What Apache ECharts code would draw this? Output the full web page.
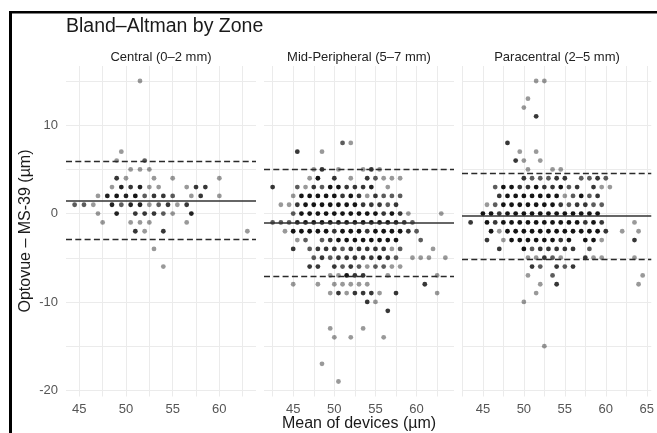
<!DOCTYPE html>
<html><head><meta charset="utf-8">
<script src="https://cdn.jsdelivr.net/npm/echarts@6/dist/echarts.min.js"></script>
<style>html,body{margin:0;padding:0;background:#fff}#c{width:657px;height:433px}</style>
</head><body><div id="c"></div>
<script>
// ---- data: [mean of devices, difference, number of overlapping points] ----
const zoneNames = ['Central (0–2 mm)', 'Mid-Peripheral (5–7 mm)', 'Paracentral (2–5 mm)'];
const centralPts = [
 [51.5,15,1],
 [49.5,7,1],
 [49,6,1],[52,6,2],
 [50.5,5,1],[51.5,5,1],[52.5,5,1],
 [49,4,3],[50,4,1],[53,4,1],[55,4,1],[60,4,1],
 [48.5,3,1],[49.5,3,4],[50.5,3,3],[51.5,3,4],[52.5,3,1],[53.5,3,1],[56.5,3,1],[57.5,3,3],[58.5,3,3],
 [47,2,1],[48,2,4],[49,2,5],[50,2,4],[51,2,5],[52,2,2],[53,2,3],[54,2,3],[55,2,2],[57,2,1],[58,2,3],[60,2,1],
 [44.5,1,2],[45.5,1,2],[46.5,1,1],[48.5,1,4],[49.5,1,2],[50.5,1,4],[51.5,1,4],[52.5,1,1],[53.5,1,2],[54.5,1,3],[55.5,1,1],[56.5,1,3],
 [47,0,1],[49,0,4],[51,0,3],[52,0,3],[53,0,3],[54,0,2],[55,0,1],[57,0,4],
 [47.5,-1,1],[50.5,-1,1],[51.5,-1,1],[52.5,-1,1],[56.5,-1,1],
 [51,-2,3],[52,-2,1],[54,-2,3],[63,-2,1],
 [53,-4,1],
 [54,-6,1]
];
const midPts = [
 [51,8,2],[52,8,1],
 [45.5,7,3],[48.5,7,1],
 [47.5,5,1],[48.5,5,3],[50.5,5,1],[53.5,5,1],[54.5,5,3],[55.5,5,1],
 [47,4,1],[48,4,5],[50,4,3],[52,4,1],[54,4,3],[55,4,2],[56,4,1],[57,4,1],[58,4,1],
 [42.5,3,3],[45.5,3,2],[46.5,3,1],[47.5,3,3],[48.5,3,2],[49.5,3,5],[50.5,3,5],[51.5,3,3],[52.5,3,3],[53.5,3,3],[54.5,3,4],[56.5,3,1],
 [45,2,1],[46,2,5],[47,2,5],[48,2,5],[49,2,5],[50,2,5],[51,2,3],[52,2,5],[53,2,3],[54,2,1],[55,2,3],[56,2,2],[57,2,2],[58,2,2],
 [43.5,1,1],[44.5,1,1],[45.5,1,3],[46.5,1,5],[47.5,1,5],[48.5,1,5],[49.5,1,5],[50.5,1,5],[51.5,1,5],[52.5,1,5],[53.5,1,3],[54.5,1,3],[55.5,1,3],[56.5,1,2],[57.5,1,3],
 [45,0,2],[46,0,5],[47,0,5],[48,0,5],[49,0,5],[50,0,5],[51,0,5],[52,0,5],[53,0,5],[54,0,5],[55,0,5],[56,0,3],[57,0,5],[58,0,3],[59,0,1],[63,0,1],
 [42.5,-1,2],[43.5,-1,2],[44.5,-1,2],[45.5,-1,4],[46.5,-1,5],[47.5,-1,5],[48.5,-1,5],[49.5,-1,5],[50.5,-1,5],[51.5,-1,5],[52.5,-1,5],[53.5,-1,5],[54.5,-1,5],[55.5,-1,5],[56.5,-1,5],[57.5,-1,4],[58.5,-1,3],[59.5,-1,2],
 [44,-2,1],[45,-2,5],[46,-2,5],[47,-2,5],[48,-2,5],[49,-2,5],[50,-2,3],[51,-2,5],[52,-2,5],[53,-2,5],[54,-2,3],[55,-2,5],[56,-2,5],[57,-2,5],[58,-2,5],[59,-2,3],[60,-2,2],
 [45.5,-3,1],[46.5,-3,2],[48.5,-3,2],[49.5,-3,3],[50.5,-3,5],[51.5,-3,5],[52.5,-3,5],[53.5,-3,5],[54.5,-3,5],[55.5,-3,5],[56.5,-3,5],[57.5,-3,5],[60.5,-3,2],
 [45,-4,3],[47,-4,2],[48,-4,3],[49,-4,3],[50,-4,3],[51,-4,2],[52,-4,3],[53,-4,3],[54,-4,3],[55,-4,3],[56,-4,3],[57,-4,1],[58,-4,2],[62,-4,1],
 [47.5,-5,2],[48.5,-5,3],[49.5,-5,2],[50.5,-5,3],[51.5,-5,3],[52.5,-5,3],[53.5,-5,3],[54.5,-5,3],[55.5,-5,5],[56.5,-5,3],[57.5,-5,2],[59.5,-5,1],[60.5,-5,1],[61.5,-5,1],[63.5,-5,1],
 [47,-6,3],[48,-6,3],[50,-6,3],[51,-6,2],[52,-6,3],[53,-6,2],[54,-6,1],[55,-6,2],[56,-6,2],[57,-6,1],[58,-6,1],
 [49.5,-7,1],[50.5,-7,1],[51.5,-7,5],[52.5,-7,3],[53.5,-7,3],[56.5,-7,1],[62.5,-7,1],
 [45,-8,1],[48,-8,1],[50,-8,1],[51,-8,1],[52,-8,1],[53,-8,1],[54,-8,1],[61,-8,3],
 [49.5,-9,1],[50.5,-9,3],[51.5,-9,1],[52.5,-9,3],[53.5,-9,3],[54.5,-9,3],[55.5,-9,1],[57.5,-9,3],[62.5,-9,1],
 [54,-10,3],[55,-10,1],
 [56.5,-11,3],
 [49.5,-13,1],[53.5,-13,1],
 [50,-14,1],[52,-14,1],[56,-14,1],
 [48.5,-17,1],
 [50.5,-19,1]
];
const paraPts = [
 [51.5,15,1],[52.5,15,1],
 [50.5,13,1],
 [50,12,1],
 [51.5,11,3],
 [48,8,3],
 [49.5,7,1],[51.5,7,1],
 [49,6,3],[50,6,1],[52,6,1],
 [50.5,5,1],[53.5,5,1],[54.5,5,1],
 [50,4,3],[51,4,2],[52,4,2],[53,4,2],[54,4,3],[55,4,3],[57,4,2],[58,4,2],[59,4,3],[60,4,2],
 [46.5,3,2],[47.5,3,5],[48.5,3,5],[49.5,3,3],[50.5,3,3],[51.5,3,5],[52.5,3,3],[53.5,3,3],[54.5,3,5],[55.5,3,2],[56.5,3,3],[58.5,3,3],[59.5,3,1],[60.5,3,1],
 [47,2,3],[48,2,5],[49,2,5],[50,2,5],[51,2,5],[52,2,5],[53,2,5],[54,2,5],[55,2,1],[56,2,2],[57,2,5],[58,2,2],[59,2,3],
 [45.5,1,1],[46.5,1,2],[47.5,1,5],[48.5,1,5],[49.5,1,5],[50.5,1,5],[51.5,1,5],[52.5,1,5],[53.5,1,5],[54.5,1,3],[55.5,1,2],[56.5,1,3],[57.5,1,3],[58.5,1,2],[59.5,1,2],
 [45,0,5],[46,0,5],[47,0,3],[48,0,5],[49,0,5],[50,0,5],[51,0,5],[52,0,5],[53,0,5],[54,0,5],[55,0,5],[56,0,5],[57,0,5],[58,0,5],[59,0,5],
 [43.5,-1,3],[45.5,-1,5],[46.5,-1,3],[47.5,-1,5],[48.5,-1,5],[49.5,-1,5],[50.5,-1,5],[51.5,-1,5],[52.5,-1,5],[53.5,-1,5],[54.5,-1,5],[55.5,-1,5],[56.5,-1,5],[57.5,-1,3],[58.5,-1,5],[59.5,-1,3],[63.5,-1,1],
 [46,-2,5],[47,-2,1],[48,-2,5],[49,-2,5],[50,-2,5],[51,-2,5],[52,-2,5],[53,-2,5],[54,-2,5],[55,-2,5],[56,-2,5],[57,-2,5],[58,-2,5],[59,-2,5],[60,-2,3],[62,-2,1],[64,-2,1],
 [45.5,-3,3],[47.5,-3,1],[48.5,-3,5],[49.5,-3,5],[50.5,-3,5],[51.5,-3,5],[52.5,-3,5],[53.5,-3,5],[54.5,-3,3],[55.5,-3,5],[57.5,-3,5],[58.5,-3,5],[59.5,-3,1],[63.5,-3,3],
 [47,-4,3],[50,-4,5],[51,-4,2],[52,-4,3],[53,-4,3],[54,-4,3],[55,-4,3],[56,-4,3],[58,-4,2],
 [50.5,-5,1],[51.5,-5,1],[52.5,-5,3],[53.5,-5,2],[54.5,-5,1],[57.5,-5,3],[58.5,-5,1],[59.5,-5,1],[63.5,-5,1],
 [51,-6,3],[52,-6,2],[54,-6,3],[55,-6,2],[56,-6,3],
 [50.5,-7,1],[53.5,-7,2],[64.5,-7,1],
 [52,-8,1],[54,-8,3],[64,-8,1],
 [51.5,-9,1],
 [50,-10,1],
 [52.5,-15,1]
];
const meanDiff = [1.5, -1.05, -0.25];
const upperLoA = [5.95, 5.0, 4.6];
const lowerLoA = [-2.9, -7.1, -5.2];
const xTickLabels = [[45,50,55,60],[45,50,55,60],[45,50,55,60,65]];
const xGridBreaks = [[45,47.5,50,52.5,55,57.5,60,62.5],[42.5,45,47.5,50,52.5,55,57.5,60,62.5],[42.5,45,47.5,50,52.5,55,57.5,60,62.5,65]];
const yTickLabels = [-20,-10,0,10];
const yGridBreaks = [-20,-15,-10,-5,0,5,10,15];

// ---- chart ----
const panels = [centralPts, midPts, paraPts];
const FONT = 'Liberation Sans, Arial, sans-serif';
function expandRange(vals){const lo=Math.min(...vals),hi=Math.max(...vals),d=(hi-lo)*0.05;return [lo-d,hi+d];}
const yRange = expandRange(panels.flat().map(p=>p[1]));
const gridLeft = [66, 264, 462], gridTop = 66, gridW = 190, gridH = 330.5;
const ALPHA = 0.4;

const option = {
  animation: false,
  backgroundColor: '#fff',
  grid: gridLeft.map(l => ({left: l, top: gridTop, width: gridW, height: gridH})),
  xAxis: panels.map((pts, i) => {
    const r = expandRange(pts.map(p => p[0]));
    return {
      type: 'value', gridIndex: i, min: r[0], max: r[1],
      axisLine: {show: false},
      axisTick: {show: false, customValues: xGridBreaks[i]},
      axisLabel: {customValues: xTickLabels[i], color: '#555', fontSize: 13, fontFamily: FONT, margin: 6},
      splitLine: {show: true, lineStyle: {color: '#ebebeb', width: 1}}
    };
  }),
  yAxis: panels.map((pts, i) => ({
    type: 'value', gridIndex: i, min: yRange[0], max: yRange[1],
    axisLine: {show: false},
    axisTick: {show: false, customValues: yGridBreaks},
    axisLabel: {show: i === 0, customValues: yTickLabels, color: '#555', fontSize: 13, fontFamily: FONT, margin: 8},
    splitLine: {show: true, lineStyle: {color: '#ebebeb', width: 1}}
  })),
  series: panels.map((pts, i) => ({
    type: 'scatter', xAxisIndex: i, yAxisIndex: i,
    symbol: 'circle', symbolSize: 4.8, silent: true,
    itemStyle: {color: '#000'},
    data: pts.map(p => ({value: [p[0], p[1]], itemStyle: {opacity: 1 - Math.pow(1 - ALPHA, p[2])}})),
    markLine: {
      silent: true, symbol: 'none', label: {show: false}, animation: false,
      data: [
        {yAxis: meanDiff[i], lineStyle: {type: 'solid', color: '#333', width: 1.6}},
        {yAxis: upperLoA[i], lineStyle: {type: [6, 3.3], color: '#2a2a2a', width: 1.4}},
        {yAxis: lowerLoA[i], lineStyle: {type: [6, 3.3], color: '#2a2a2a', width: 1.4}}
      ]
    }
  })),
  graphic: [
    {type: 'rect', shape: {x: 9, y: 11, width: 648, height: 2.5}, style: {fill: '#000'}},
    {type: 'rect', shape: {x: 9, y: 11, width: 3, height: 422}, style: {fill: '#000'}},
    {type: 'text', x: 66, y: 27, style: {text: 'Bland–Altman by Zone', font: '19.5px ' + FONT, fill: '#1a1a1a', textAlign: 'left', textVerticalAlign: 'middle'}},
    ...zoneNames.map((z, i) => ({type: 'text', x: gridLeft[i] + gridW / 2, y: 57, style: {text: z, font: '13px ' + FONT, fill: '#222', textAlign: 'center', textVerticalAlign: 'middle'}})),
    {type: 'text', x: 359, y: 424, style: {text: 'Mean of devices (µm)', font: '16px ' + FONT, fill: '#1a1a1a', textAlign: 'center', textVerticalAlign: 'middle'}},
    {type: 'text', x: 26, y: 231, rotation: Math.PI / 2, style: {text: 'Optovue – MS-39 (µm)', font: '16px ' + FONT, fill: '#1a1a1a', textAlign: 'center', textVerticalAlign: 'middle'}}
  ]
};
const chart = echarts.init(document.getElementById('c'), null, {renderer: 'canvas'});
chart.setOption(option);
</script>
</body></html>
